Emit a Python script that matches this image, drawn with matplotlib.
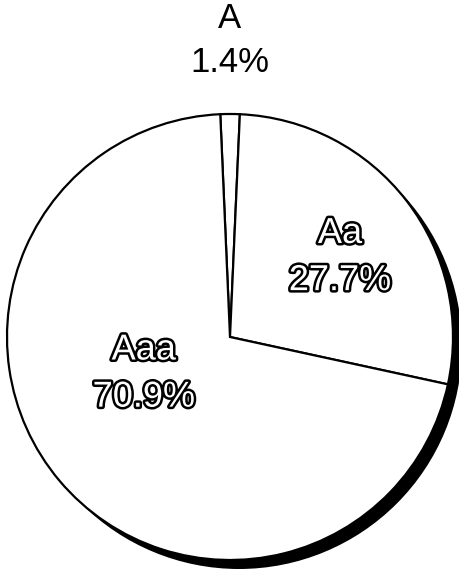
"""Pie chart of genotype shares with outlined labels and a drop shadow."""

import matplotlib

matplotlib.use("Agg")
import matplotlib.pyplot as plt  # noqa: E402
import matplotlib.patheffects as pe  # noqa: E402
import numpy as np  # noqa: E402
from matplotlib.patches import Circle  # noqa: E402

plt.rcParams["font.family"] = ["Liberation Sans", "DejaVu Sans"]

names = ["A", "Aa", "Aaa"]
shares = [1.4, 27.7, 70.9]

W, H, DPI = 460, 571, 100
R_PX = 223          # pie radius in pixels
CX, CY = 230, 234   # pie centre in pixels from bottom-left

fig = plt.figure(figsize=(W / DPI, H / DPI), dpi=DPI)
ax = fig.add_axes([0, 0, 1, 1])

wedges, _ = ax.pie(
    shares, startangle=92.5, counterclock=False, radius=1.0,
    colors=["white"] * 3,
    wedgeprops=dict(edgecolor="black", linewidth=1.6),
)
for w in wedges:
    w.set_zorder(1)

# dark shadow sitting a little down and right of the pie
sh = 9 / R_PX
ax.add_patch(Circle((sh, -sh), 1.0, fc="black", ec="none", zorder=0))

# pie() resets the view, so fix the limits afterwards (same px per unit on both axes)
ax.set_aspect("auto")
ax.set_xlim(-CX / R_PX, (W - CX) / R_PX)
ax.set_ylim(-CY / R_PX, (H - CY) / R_PX)
ax.axis("off")

# label placement: (radius, angle in degrees, outlined?)
spots = [(1.33, 90.0, False), (0.61, 36.0, True), (0.42, 203.0, True)]
for name, val, (r, ang, outlined) in zip(names, shares, spots):
    x = r * np.cos(np.radians(ang))
    y = r * np.sin(np.radians(ang))
    txt = ax.text(x, y, f"{name}\n{val:.1f}%", ha="center", va="center",
                  fontsize=26 if outlined else 25, linespacing=1.45, zorder=3,
                  color="white" if outlined else "black")
    if outlined:
        txt.set_path_effects([pe.Stroke(linewidth=3.6, foreground="black"), pe.Normal()])

fig.savefig("out.png", dpi=DPI, facecolor="white")
